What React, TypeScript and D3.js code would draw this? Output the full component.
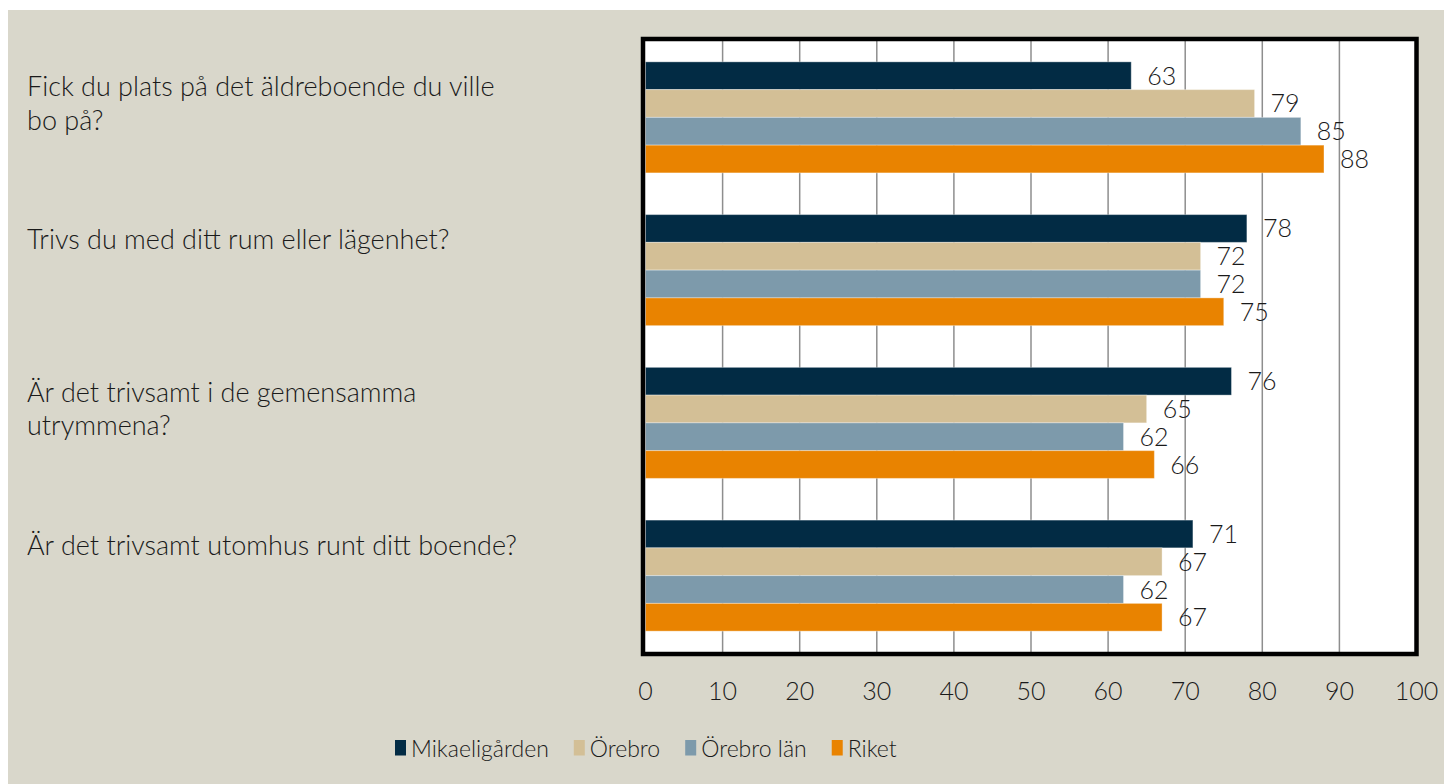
import React from "react";
import * as d3 from "d3";

const categories = [
  "Fick du plats på det äldreboende du ville\nbo på?",
  "Trivs du med ditt rum eller lägenhet?",
  "Är det trivsamt i de gemensamma\nutrymmena?",
  "Är det trivsamt utomhus runt ditt boende?",
];
const seriesNames = ["Mikaeligården", "Örebro", "Örebro län", "Riket"];
const seriesColors = ["#022b44", "#d3bf96", "#7d9aab", "#e98300"];
const mikaeligarden = [63, 78, 76, 71];
const orebro = [79, 72, 65, 67];
const orebroLan = [85, 72, 62, 62];
const riket = [88, 75, 66, 67];
const seriesValues = [mikaeligarden, orebro, orebroLan, riket];
const xTicks = [0, 10, 20, 30, 40, 50, 60, 70, 80, 90, 100];

const FONT = "Lato, 'Liberation Sans', sans-serif";
const WEIGHT = 300;
const TEXT = "#1a1a1a";

function measure(text: string, size: number) {
  const c = document.createElement("canvas").getContext("2d");
  if (!c) return text.length * size * 0.55;
  c.font = `${WEIGHT} ${size}px Lato`;
  return c.measureText(text).width;
}

export default function App() {
  const W = 1444;
  const H = 776;
  const frame = { x0: 643, x1: 1416.5, y0: 39, y1: 654 };
  const x = d3.scaleLinear().domain([0, 100]).range([645.5, 1416.5]);
  const y = d3
    .scaleBand<number>()
    .domain(d3.range(categories.length))
    .range([41, 652])
    .paddingInner(0.273)
    .paddingOuter(0.1365);
  const ySub = d3
    .scaleBand<number>()
    .domain(d3.range(seriesNames.length))
    .range([0, y.bandwidth()]);

  const catSize = 27;
  const valSize = 25;
  const legSize = 23;

  let lx = 395;
  const legendItems = seriesNames.map((name, i) => {
    const item = { name, color: seriesColors[i], x: lx };
    lx += 11 + 5 + measure(name, legSize) + 25;
    return item;
  });

  return (
    <svg width={W} height={H} style={{ display: "block" }}>
      <g transform="translate(-8,-8)">
        <rect x={8} y={10} width={1444} height={774} fill="#d9d7cb" />
        <rect
          x={frame.x0}
          y={frame.y0}
          width={frame.x1 - frame.x0}
          height={frame.y1 - frame.y0}
          fill="#ffffff"
        />
        {xTicks.slice(1, -1).map((t) => (
          <line
            key={"g" + t}
            x1={x(t)}
            x2={x(t)}
            y1={frame.y0}
            y2={frame.y1}
            stroke="#8e8e8e"
            strokeWidth={1.5}
          />
        ))}
        {seriesValues.map((vals, si) =>
          vals.map((v, ci) => (
            <rect
              key={`b${si}-${ci}`}
              x={x(0)}
              y={(y(ci) as number) + (ySub(si) as number)}
              width={x(v) - x(0)}
              height={ySub.bandwidth()}
              fill={seriesColors[si]}
              stroke="rgba(255,255,255,0.35)"
              strokeWidth={1}
            />
          ))
        )}
        {seriesValues.map((vals, si) =>
          vals.map((v, ci) => (
            <text
              key={`v${si}-${ci}`}
              x={x(v) + 16}
              y={(y(ci) as number) + (ySub(si) as number) + ySub.bandwidth() / 2 + 9}
              fontFamily={FONT}
              fontWeight={WEIGHT}
              fontSize={valSize}
              fill={TEXT}
            >
              {v}
            </text>
          ))
        )}
        <rect
          x={frame.x0}
          y={frame.y0}
          width={frame.x1 - frame.x0}
          height={frame.y1 - frame.y0}
          fill="none"
          stroke="#000"
          strokeWidth={4.5}
        />
        {xTicks.map((t) => (
          <text
            key={"t" + t}
            x={x(t)}
            y={700}
            textAnchor="middle"
            fontFamily={FONT}
            fontWeight={WEIGHT}
            fontSize={valSize}
            fill={TEXT}
          >
            {t}
          </text>
        ))}
        {categories.map((c, ci) => {
          const cy = (y(ci) as number) + y.bandwidth() / 2;
          return (
            <text key={"c" + ci} fontFamily={FONT} fontWeight={WEIGHT} fontSize={catSize} fill={TEXT}>
              {c.split("\n").map((line, li) => (
                <tspan key={li} x={27} y={cy - 21 + li * 33.5}>
                  {line}
                </tspan>
              ))}
            </text>
          );
        })}
        {legendItems.map((it) => (
          <g key={it.name}>
            <rect x={it.x} y={740} width={11} height={15.5} fill={it.color} />
            <text
              x={it.x + 16}
              y={756.5}
              fontFamily={FONT}
              fontWeight={WEIGHT}
              fontSize={legSize}
              fill={TEXT}
            >
              {it.name}
            </text>
          </g>
        ))}
      </g>
    </svg>
  );
}
